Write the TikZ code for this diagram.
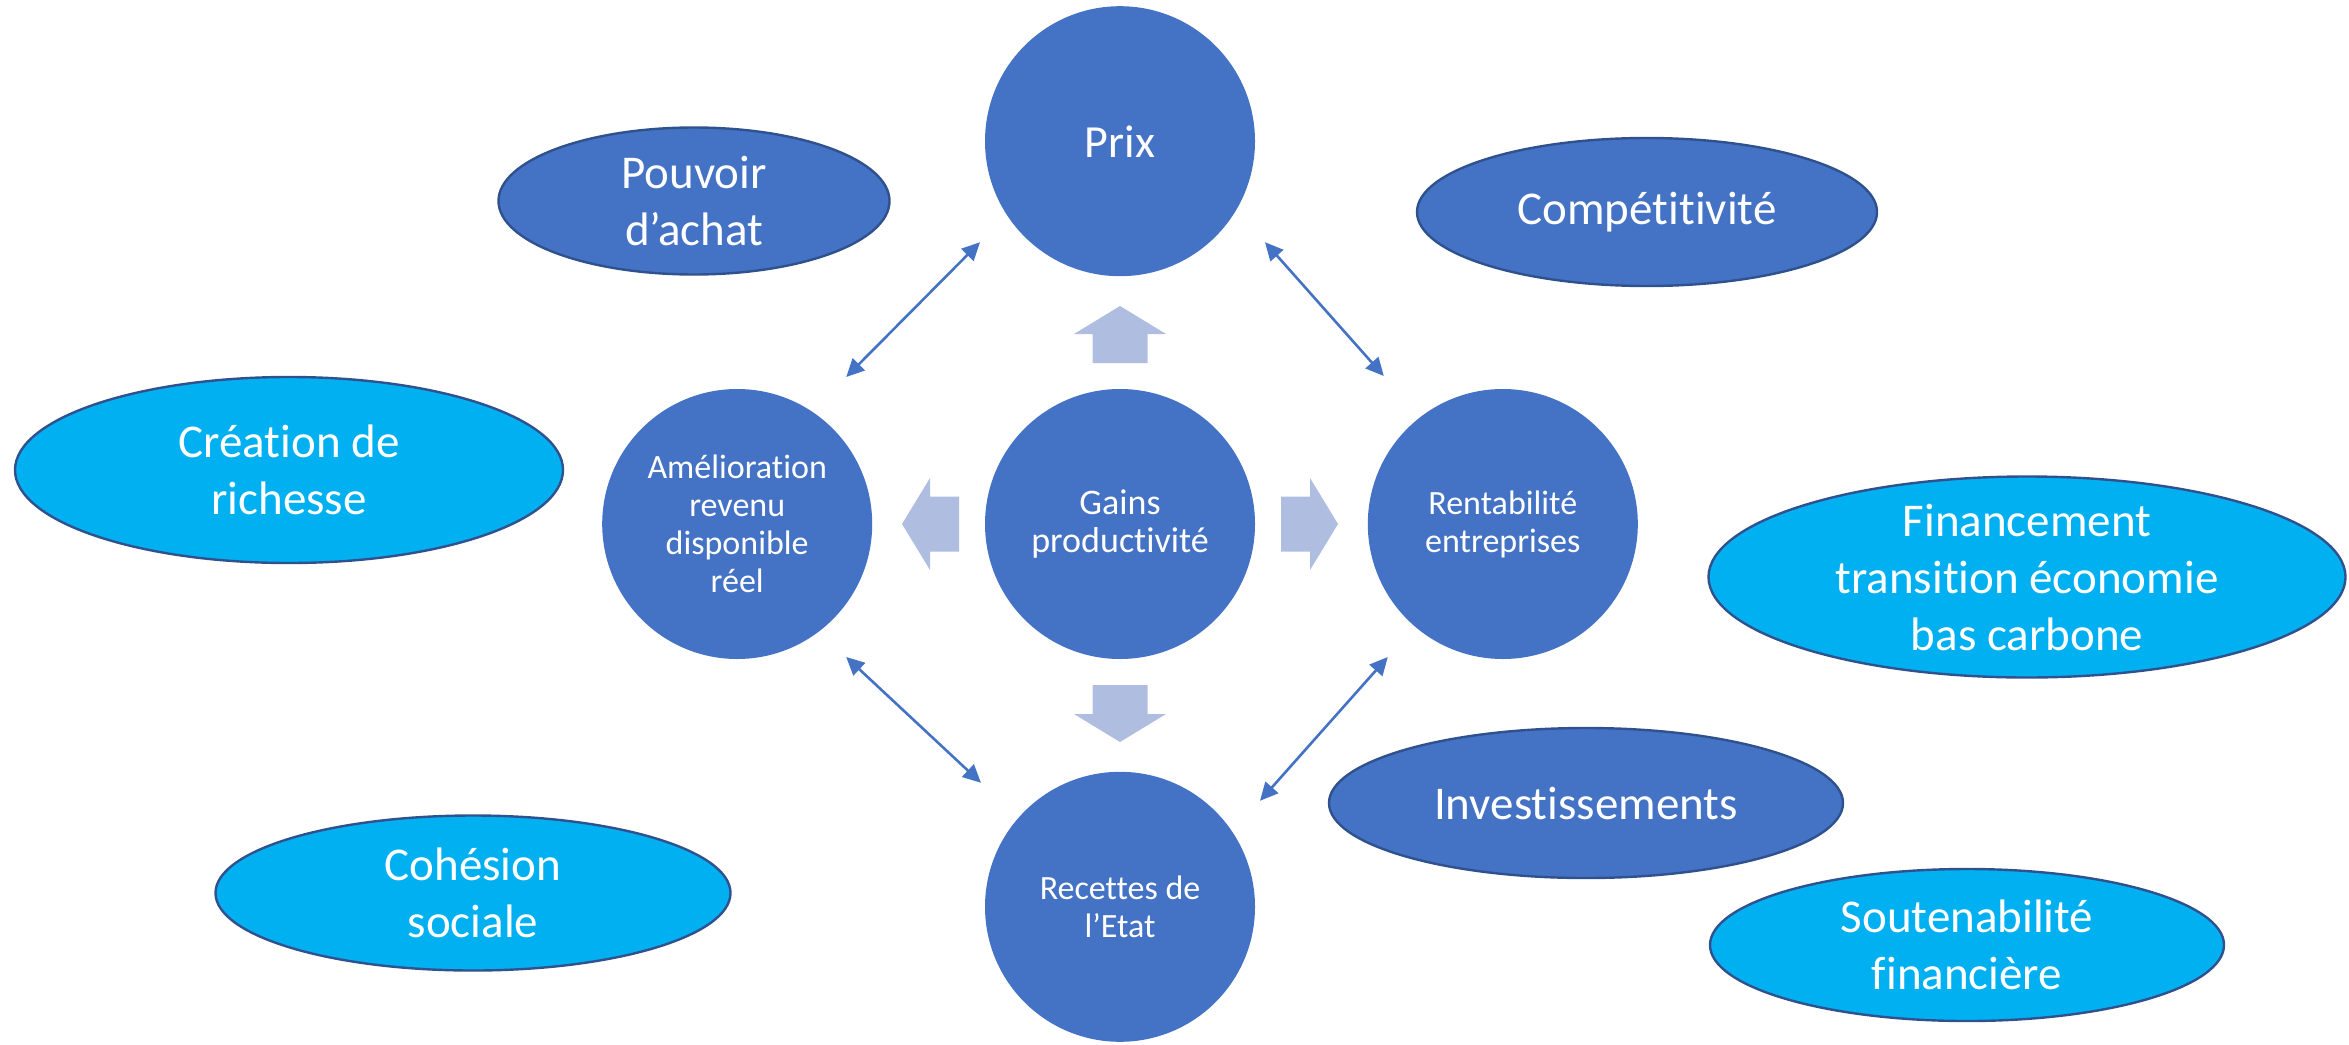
\documentclass[tikz,border=0pt]{standalone}
\usepackage{fontspec}
\setmainfont{Carlito}[Ligatures={NoCommon}]
\usetikzlibrary{positioning}
\usetikzlibrary{calc}
\usetikzlibrary{arrows.meta}
\usetikzlibrary{shapes.geometric}

\definecolor{accentblue}{HTML}{4472C4}
\definecolor{darkrim}{HTML}{2F528F}
\definecolor{skyblue}{HTML}{00B0F0}
\definecolor{paleblue}{HTML}{AFBDE0}

\begin{document}
\begin{tikzpicture}[x=0.5pt, y=-0.5pt, text centered, node distance=56pt,
    hub/.style={circle, fill=accentblue, minimum size=135pt, inner sep=0pt, text=white, align=center, font=\fontsize{17pt}{19pt}\selectfont},
    effect/.style={ellipse, draw=darkrim, line width=1.2pt, fill=accentblue, inner sep=-8pt, text=white, align=center, font=\fontsize{23.5pt}{28.5pt}\selectfont},
    outcome/.style={effect, fill=skyblue},
    link/.style={{Triangle[length=9pt, width=8.5pt]}-{Triangle[length=9pt, width=8.5pt]}, accentblue, line width=1.3pt}]

        \useasboundingbox (0,0) rectangle (2349,1044);

        \node[hub, font=\fontsize{18pt}{19pt}\selectfont] (gains) at (1120,524) {Gains\\productivité};
        \node[hub, font=\fontsize{23pt}{28pt}\selectfont, above = of gains] (prix) {Prix};
        \node[hub, left = of gains] (amelio) {Amélioration\\revenu\\disponible\\réel};
        \node[hub, right = of gains] (rentab) {Rentabilité\\entreprises};
        \node[hub, below = of gains] (recettes) {Recettes de\\l’Etat};

        \foreach \a in {0,90,180,270}
            \fill[paleblue, shift={(gains.center)}, rotate=\a] (161,-27.5) -- (190,-27.5) -- (190,-46) -- (218,0) -- (190,46) -- (190,27.5) -- (161,27.5) -- cycle;

        \draw[link] ([shift={(109,-147)}] amelio.center) -- ([shift={(-140,101)}] prix.center);
        \draw[link] ([shift={(145,101)}] prix.center) -- ([shift={(-119,-148)}] rentab.center);
        \draw[link] ([shift={(109,133)}] amelio.center) -- ([shift={(-139,-124)}] recettes.center);
        \draw[link] ([shift={(-115,133)}] rentab.center) -- ([shift={(140,-106)}] recettes.center);

        \node[effect, minimum width=195.5pt, minimum height=73.5pt] (pouvoir) at (694,201) {Pouvoir\\d’achat};
        \node[effect, minimum width=230pt, minimum height=74pt] (compet) at (1647,212) {Compétitivité};
        \node[outcome, minimum width=274pt, minimum height=93pt] (richesse) at (289,470) {Création de\\richesse};
        \node[outcome, minimum width=318.5pt, minimum height=100.5pt] (financement) at (2027,577) {Financement\\transition économie\\bas carbone};
        \node[effect, minimum width=257pt, minimum height=75pt] (invest) at (1586,803) {Investissements};
        \node[outcome, minimum width=257.5pt, minimum height=77.5pt] (cohesion) at (473,893) {Cohésion\\sociale};
        \node[outcome, minimum width=257pt, minimum height=76pt] (soutenab) at (1967,945) {Soutenabilité\\financière};

    \end{tikzpicture}
\end{document}
